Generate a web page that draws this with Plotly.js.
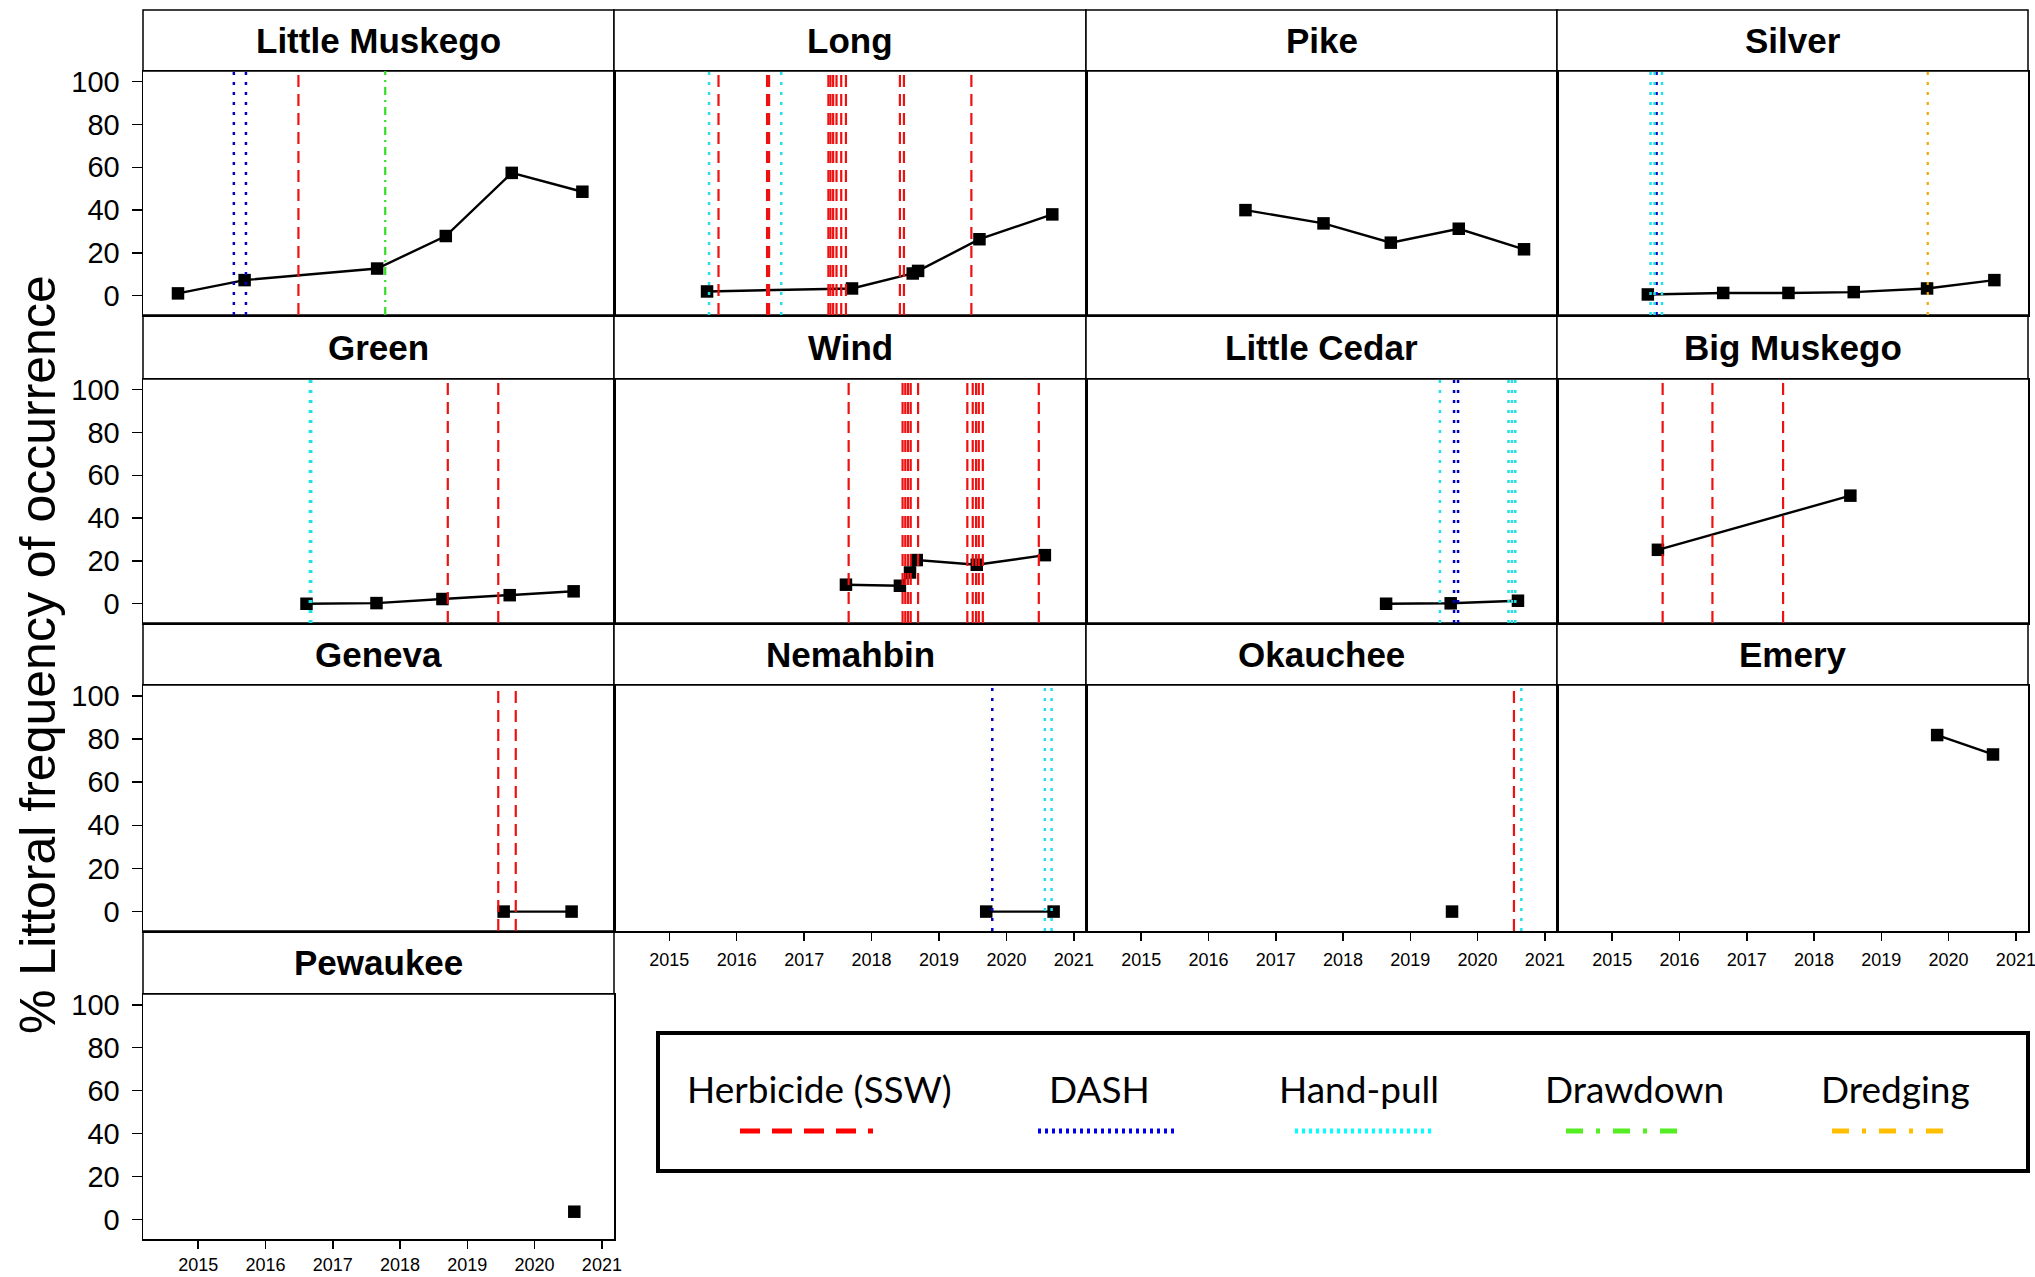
<!DOCTYPE html>
<html><head><meta charset="utf-8">
<script src="https://cdn.plot.ly/plotly-3.0.1.min.js"></script>
<style>html,body{margin:0;padding:0;background:#fff;} #chart{width:2035px;height:1277px;}</style>
</head><body><div id="chart"></div>
<script>
// ---------------- data ----------------
const lakeNames = ["Little Muskego","Long","Pike","Silver","Green","Wind","Little Cedar","Big Muskego","Geneva","Nemahbin","Okauchee","Emery","Pewaukee"];
const yearTicks = [2015, 2016, 2017, 2018, 2019, 2020, 2021];
const freqTicks = [0, 20, 40, 60, 80, 100];

const littleMuskegoYear = [2014.70, 2015.69, 2017.66, 2018.68, 2019.66, 2020.71];
const littleMuskegoFreq = [1.1, 7.3, 12.7, 27.9, 57.4, 48.6];
const longYear = [2015.56, 2017.71, 2018.61, 2018.69, 2019.60, 2020.68];
const longFreq = [2.0, 3.4, 10.4, 11.6, 26.4, 38.0];
const pikeYear = [2016.55, 2017.71, 2018.71, 2019.72, 2020.69];
const pikeFreq = [40.0, 33.8, 24.8, 31.3, 21.7];
const silverYear = [2015.53, 2016.65, 2017.62, 2018.59, 2019.68, 2020.68];
const silverFreq = [0.6, 1.3, 1.3, 1.7, 3.4, 7.3];
const greenYear = [2016.61, 2017.65, 2018.63, 2019.63, 2020.58];
const greenFreq = [0, 0.3, 2.2, 4.0, 5.8];
const windYear = [2017.62, 2018.42, 2018.57, 2018.67, 2019.56, 2020.57];
const windFreq = [8.9, 8.4, 14.6, 20.4, 18.2, 22.7];
const littleCedarYear = [2018.64, 2019.60, 2020.60];
const littleCedarFreq = [0, 0.2, 1.4];
const bigMuskegoYear = [2015.68, 2018.54];
const bigMuskegoFreq = [25.2, 50.5];
const genevaYear = [2019.54, 2020.55];
const genevaFreq = [0, 0];
const nemahbinYear = [2019.70, 2020.70];
const nemahbinFreq = [0, 0];
const okaucheeYear = [2019.62];
const okaucheeFreq = [0];
const emeryYear = [2019.83, 2020.66];
const emeryFreq = [81.8, 72.8];
const pewaukeeYear = [2020.59];
const pewaukeeFreq = [3.7];

// treatment dates (decimal years)
const littleMuskegoHerbicide = [2016.49];
const littleMuskegoDash = [2015.53, 2015.71];
const littleMuskegoDrawdown = [2017.78];
const longHerbicide = [2015.73, 2016.45, 2016.48, 2017.36, 2017.39, 2017.43, 2017.48, 2017.55, 2017.62, 2018.42, 2018.48, 2019.48];
const longHandpull = [2015.59, 2016.66];
const silverHandpull = [2015.57, 2015.63, 2015.74];
const silverDash = [2015.66];
const silverDredging = [2019.69];
const greenHandpull = [2016.66, 2016.68];
const greenHerbicide = [2018.71, 2019.46];
const windHerbicide = [2017.66, 2018.46, 2018.50, 2018.54, 2018.58, 2018.69, 2019.42, 2019.50, 2019.55, 2019.59, 2019.65, 2020.48];
const littleCedarHandpull = [2019.44, 2020.46, 2020.51, 2020.56];
const littleCedarDash = [2019.65, 2019.71];
const bigMuskegoHerbicide = [2015.75, 2016.49, 2017.54];
const genevaHerbicide = [2019.46, 2019.72];
const nemahbinDash = [2019.79];
const nemahbinHandpull = [2020.57, 2020.67];
const okaucheeHerbicide = [2020.54];
const okaucheeHandpull = [2020.65];

const treatmentNames = ["Herbicide (SSW)", "DASH", "Hand-pull", "Drawdown", "Dredging"];

// ---------------- styles / layout ----------------
const W = 2035, H = 1277;
const fx = p => p / W;
const fy = p => 1 - p / H;
const colX = [[143,614],[614,1086],[1086,1557],[1557,2028]];
const rowY = [[71,315],[379,623],[685,931],[994,1239]];
const stripY = [[10,71],[315,379],[623,685],[931,994]];
const FONT = "Liberation Sans, Arial, sans-serif";

const styles = {
  herb:   {color:'#ee1111', width:2.2, dash:'12px,7px'},
  dash:   {color:'#0000cd', width:2.5, dash:'3px,7px'},
  hand:   {color:'#22e0e6', width:2.5, dash:'3px,7px'},
  draw:   {color:'#33dd22', width:2.2, dash:'8px,5px,2px,5px'},
  dredge: {color:'#f0a800', width:2.2, dash:'3px,7px'}
};

const panels = [
  {x: littleMuskegoYear, y: littleMuskegoFreq, herb: littleMuskegoHerbicide, dash: littleMuskegoDash, draw: littleMuskegoDrawdown},
  {x: longYear, y: longFreq, herb: longHerbicide, hand: longHandpull},
  {x: pikeYear, y: pikeFreq},
  {x: silverYear, y: silverFreq, hand: silverHandpull, dash: silverDash, dredge: silverDredging},
  {x: greenYear, y: greenFreq, hand: greenHandpull, herb: greenHerbicide},
  {x: windYear, y: windFreq, herb: windHerbicide},
  {x: littleCedarYear, y: littleCedarFreq, hand: littleCedarHandpull, dash: littleCedarDash},
  {x: bigMuskegoYear, y: bigMuskegoFreq, herb: bigMuskegoHerbicide},
  {x: genevaYear, y: genevaFreq, herb: genevaHerbicide},
  {x: nemahbinYear, y: nemahbinFreq, dash: nemahbinDash, hand: nemahbinHandpull},
  {x: okaucheeYear, y: okaucheeFreq, herb: okaucheeHerbicide, hand: okaucheeHandpull},
  {x: emeryYear, y: emeryFreq},
  {x: pewaukeeYear, y: pewaukeeFreq}
];
const bottomOfColumn = [9, 10, 11, 12]; // panels that carry x tick labels

const traces = [];
const shapes = [];
const annotations = [];
const layout = {
  width: W, height: H, margin: {l:0, r:0, t:0, b:0},
  paper_bgcolor: '#fff', plot_bgcolor: '#fff', showlegend: false,
  font: {family: FONT, color: '#000'}
};

panels.forEach((p, i) => {
  const row = Math.floor(i / 4), col = i % 4;
  const n = i + 1;
  const xa = n === 1 ? 'x' : 'x' + n;
  const ya = n === 1 ? 'y' : 'y' + n;
  const showX = bottomOfColumn.includes(i);
  const showY = col === 0;
  layout[n === 1 ? 'xaxis' : 'xaxis' + n] = {
    domain: [fx(colX[col][0]), fx(colX[col][1])], anchor: ya,
    range: [2014.18, 2021.18], tickvals: yearTicks, showgrid: false, zeroline: false,
    showline: true, mirror: true, linecolor: '#000', linewidth: 1.5,
    ticks: showX ? 'outside' : '', ticklen: 8, tickwidth: 1.5, tickcolor: '#000',
    showticklabels: showX, tickfont: {size: 18, family: FONT, color: '#000'},
    ticklabelstandoff: (i === 12 ? 1 : 4), ticklabeloverflow: 'allow'
  };
  layout[n === 1 ? 'yaxis' : 'yaxis' + n] = {
    domain: [fy(rowY[row][1]), fy(rowY[row][0])], anchor: xa,
    range: [-9, 105], tickvals: freqTicks, showgrid: false, zeroline: false,
    showline: true, mirror: true, linecolor: '#000', linewidth: 1.5,
    ticks: showY ? 'outside' : '', ticklen: 10, tickwidth: 1.5, tickcolor: '#000',
    showticklabels: showY, tickfont: {size: 29, family: FONT, color: '#000'}, ticklabelstandoff: 6
  };
  traces.push({
    type: 'scatter', mode: 'lines+markers', x: p.x, y: p.y, xaxis: xa, yaxis: ya,
    line: {color: '#000', width: 2.4}, marker: {symbol: 'square', size: 12.5, color: '#000'},
    cliponaxis: false, hoverinfo: 'skip'
  });
  ['herb','dash','hand','draw','dredge'].forEach(k => {
    (p[k] || []).forEach(v => {
      shapes.push({type: 'line', xref: xa, yref: ya + ' domain', x0: v, x1: v, y0: 0, y1: 1,
        line: styles[k], layer: 'above'});
    });
  });
  // strip
  shapes.push({type: 'rect', xref: 'paper', yref: 'paper',
    x0: fx(colX[col][0]), x1: fx(colX[col][1]), y0: fy(stripY[row][1]), y1: fy(stripY[row][0]),
    line: {color: '#000', width: 1.5}, fillcolor: '#fff', layer: 'below'});
  annotations.push({xref: 'paper', yref: 'paper',
    x: fx((colX[col][0] + colX[col][1]) / 2), y: fy((stripY[row][0] + stripY[row][1]) / 2),
    text: '<b>' + lakeNames[i] + '</b>', showarrow: false, xanchor: 'center', yanchor: 'middle',
    font: {size: 35, family: FONT, color: '#000'}});
});

// y-axis title
annotations.push({xref: 'paper', yref: 'paper', x: fx(38), y: fy(655), textangle: -90,
  text: '% Littoral frequency of occurrence', showarrow: false, xanchor: 'center', yanchor: 'middle',
  font: {size: 50, family: FONT, color: '#000'}});

// legend box
shapes.push({type: 'rect', xref: 'paper', yref: 'paper', x0: fx(658), x1: fx(2028), y0: fy(1171), y1: fy(1033),
  line: {color: '#000', width: 4}, fillcolor: 'rgba(0,0,0,0)'});
const legendCenters = [819, 1099, 1359, 1634, 1895];
const legendSamples = [[740,873],[1038,1175],[1295,1431],[1566,1687],[1832,1954]];
const legendStyles = [
  {color:'#ff0000', width:5, dash:'20px,12px'},
  {color:'#0000ee', width:5, dash:'3px,4px'},
  {color:'#00ffff', width:5, dash:'3px,4px'},
  {color:'#55ee22', width:5, dash:'17px,13px,4px,13px'},
  {color:'#ffbf00', width:5, dash:'17px,13px,4px,13px'}
];
treatmentNames.forEach((t, i) => {
  annotations.push({xref: 'paper', yref: 'paper', x: fx(legendCenters[i]), y: fy(1088), text: t,
    showarrow: false, xanchor: 'center', yanchor: 'middle',
    font: {size: 37, family: 'Lato, Open Sans, sans-serif', color: '#000'}});
  shapes.push({type: 'line', xref: 'paper', yref: 'paper',
    x0: fx(legendSamples[i][0]), x1: fx(legendSamples[i][1]), y0: fy(1131), y1: fy(1131),
    line: legendStyles[i]});
});

layout.shapes = shapes;
layout.annotations = annotations;
Plotly.newPlot('chart', traces, layout, {displayModeBar: false, staticPlot: true});
</script></body></html>
